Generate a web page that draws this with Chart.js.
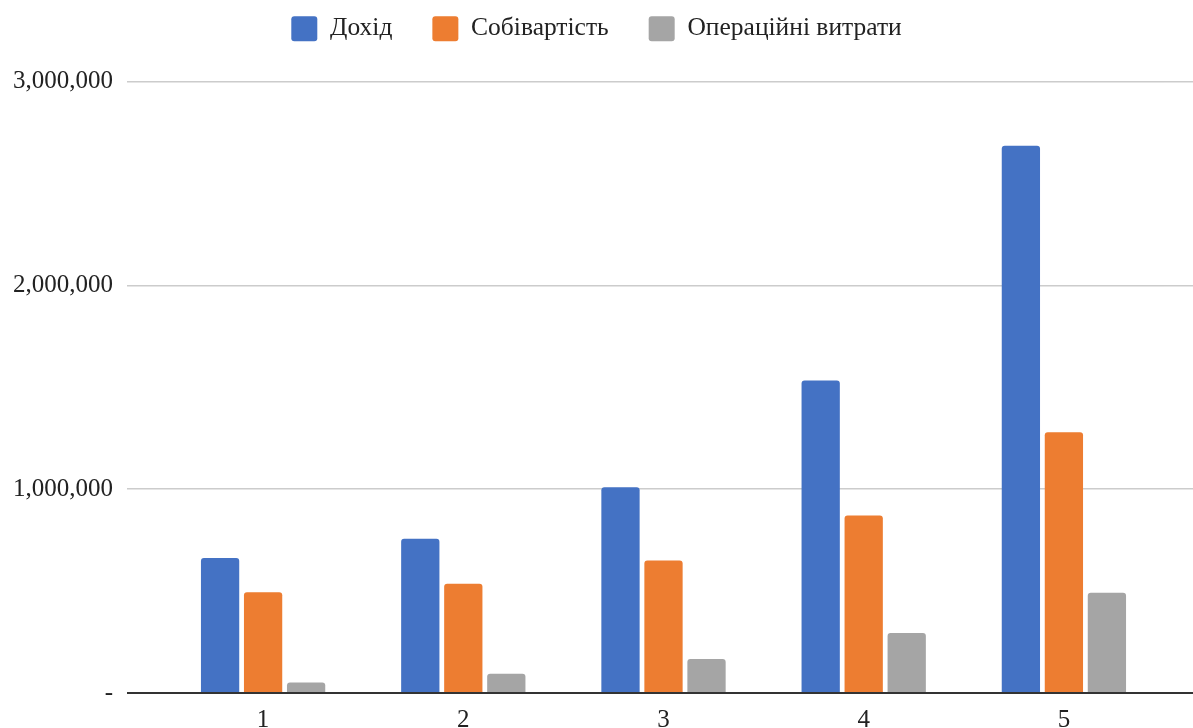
<!DOCTYPE html>
<html>
<head>
<meta charset="utf-8">
<script src="https://cdn.jsdelivr.net/npm/chart.js@4"></script>
<style>
  html, body { margin: 0; padding: 0; background: #fff; }
  #wrap { width: 1193px; height: 728px; }
</style>
</head>
<body>
<div id="wrap"><canvas id="chart"></canvas></div>
<script>
const categories = ['1', '2', '3', '4', '5'];
const revenue = [662000, 757000, 1010000, 1533000, 2685000];
const costOfGoods = [494000, 536000, 650000, 871000, 1279000];
const operatingExpenses = [52000, 95000, 167000, 294000, 492000];
const yTicks = [0, 1000000, 2000000, 3000000];

const FONT = "'Liberation Serif', 'Times New Roman', serif";
const gridColor = c => (c.tick && c.tick.value === 0) ? '#333333' : '#cccccc';
const gridWidth = c => (c.tick && c.tick.value === 0) ? 2 : 1.5;

// extra room between the legend and the plot
const legendSpacer = {
    id: 'legendSpacer',
    beforeInit(chart) {
        const fit = chart.legend.fit;
        chart.legend.fit = function () {
            fit.bind(chart.legend)();
            this.height += 30;
        };
    }
};

const ctx = document.getElementById('chart').getContext('2d');
new Chart(ctx, {
    type: 'bar',
    data: {
        labels: categories,
        datasets: [
            { label: 'Дохід', data: revenue, backgroundColor: '#4472C4' },
            { label: 'Собівартість', data: costOfGoods, backgroundColor: '#ED7D31' },
            { label: 'Операційні витрати', data: operatingExpenses, backgroundColor: '#A5A5A5' }
        ]
    },
    plugins: [legendSpacer],
    options: {
        responsive: true,
        maintainAspectRatio: false,
        animation: false,
        layout: { padding: { left: 0, right: 0, top: -24, bottom: -19 } },
        datasets: {
            bar: {
                categoryPercentage: 0.6445,
                barPercentage: 0.89,
                borderRadius: 3,
                borderSkipped: 'start'
            }
        },
        plugins: {
            legend: {
                position: 'top',
                labels: {
                    color: '#222',
                    font: { family: FONT, size: 25.5 },
                    boxWidth: 26,
                    boxHeight: 25,
                    useBorderRadius: true,
                    borderRadius: 3,
                    padding: 40
                }
            },
            tooltip: { enabled: false }
        },
        scales: {
            x: {
                grid: { display: false, drawTicks: false, tickLength: 0 },
                border: { display: false },
                ticks: {
                    color: '#222',
                    font: { family: FONT, size: 25 },
                    padding: 12
                }
            },
            y: {
                min: 0,
                max: 3000000,
                afterBuildTicks: axis => { axis.ticks = yTicks.map(v => ({ value: v })); },
                afterFit: axis => { axis.width = 163; },
                border: { display: false },
                grid: {
                    color: gridColor,
                    tickColor: gridColor,
                    lineWidth: gridWidth,
                    tickWidth: gridWidth,
                    tickLength: 36
                },
                ticks: {
                    color: '#222',
                    font: { family: FONT, size: 25 },
                    padding: 14,
                    callback: v => v === 0 ? '-' : v.toLocaleString('en-US')
                }
            },
            yRight: {
                position: 'right',
                min: 0,
                max: 3000000,
                afterBuildTicks: axis => { axis.ticks = yTicks.map(v => ({ value: v })); },
                border: { display: false },
                grid: {
                    drawOnChartArea: false,
                    color: gridColor,
                    tickColor: gridColor,
                    lineWidth: gridWidth,
                    tickWidth: gridWidth,
                    tickLength: 29
                },
                ticks: { display: false }
            }
        }
    }
});
</script>
</body>
</html>
